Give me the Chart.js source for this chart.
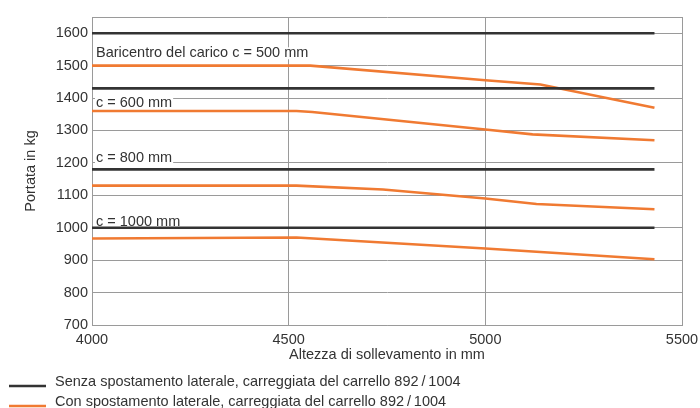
<!DOCTYPE html>
<html>
<head>
<meta charset="utf-8">
<script src="https://cdn.jsdelivr.net/npm/chart.js@4/dist/chart.umd.min.js"></script>
<style>
  html, body { margin: 0; padding: 0; background: #fff; }
  #wrap { width: 700px; height: 408px; position: relative; }
</style>
</head>
<body>
<div id="wrap"><canvas id="c" width="700" height="408"></canvas></div>
<script>
// ---- data ----
const blackX = [4000, 5430];
const black500 = [1600, 1600];
const black600 = [1430, 1430];
const black800 = [1180, 1180];
const black1000 = [1000, 1000];

const c500X = [4000, 4555, 5000, 5140, 5430];
const c500Y = [1500, 1500, 1455, 1442, 1370];
const c600X = [4000, 4520, 4560, 5000, 5120, 5430];
const c600Y = [1360, 1360, 1357, 1303, 1288, 1270];
const c800X = [4000, 4520, 4740, 5000, 5130, 5430];
const c800Y = [1130, 1130, 1118, 1090, 1073, 1057];
const c1000X = [4000, 4520, 5000, 5430];
const c1000Y = [967, 970, 936, 903];

const xTicks = [4000, 4500, 5000, 5500];
const yTicks = [700, 800, 900, 1000, 1100, 1200, 1300, 1400, 1500, 1600];
const curveLabels = ['Baricentro del carico c = 500 mm', 'c = 600 mm', 'c = 800 mm', 'c = 1000 mm'];
const curveLabelY = [1538, 1384, 1214, 1017];
const legendLabels = [
  'Senza spostamento laterale, carreggiata del carrello 892\u2009/\u20091004',
  'Con spostamento laterale, carreggiata del carrello 892\u2009/\u20091004'
];

const BLACK = '#333333';
const ORANGE = '#f07a32';
const GRID = '#9a9a9a';
const TEXT = '#333333';
const FONT = "'Liberation Sans', Arial, sans-serif";
const FS = 14.5;

function pts(xs, ys) { return xs.map((x, i) => ({ x: x, y: ys[i] })); }
function ds(xs, ys, color) {
  return { data: pts(xs, ys), borderColor: color, borderWidth: 2.6, pointRadius: 0, tension: 0, fill: false };
}

const datasets = [
  ds(blackX, black500, BLACK), ds(blackX, black600, BLACK), ds(blackX, black800, BLACK), ds(blackX, black1000, BLACK),
  ds(c500X, c500Y, ORANGE), ds(c600X, c600Y, ORANGE), ds(c800X, c800Y, ORANGE), ds(c1000X, c1000Y, ORANGE)
];

const labelPlugin = {
  id: 'curveLabels',
  beforeDatasetsDraw(chart) {
    const ctx = chart.ctx, xs = chart.scales.x, ys = chart.scales.y;
    ctx.save();
    ctx.font = FS + 'px ' + FONT;
    ctx.textBaseline = 'middle';
    curveLabels.forEach((t, i) => {
      const x = xs.getPixelForValue(4000) + 4;
      const y = ys.getPixelForValue(curveLabelY[i]);
      const w = ctx.measureText(t).width;
      ctx.fillStyle = '#fff';
      ctx.fillRect(x - 1, y - 6, w + 2, 12);
      ctx.fillStyle = TEXT;
      ctx.fillText(t, x, y);
    });
    ctx.restore();
  },
  afterDraw(chart) {
    const ctx = chart.ctx;
    const base = chart.chartArea.bottom;
    ctx.save();
    ctx.font = FS + 'px ' + FONT;
    ctx.textBaseline = 'middle';
    [BLACK, ORANGE].forEach((c, i) => {
      const y = base + 61 + i * 20;
      ctx.strokeStyle = c;
      ctx.lineWidth = 2.6;
      ctx.beginPath();
      ctx.moveTo(9, y);
      ctx.lineTo(46, y);
      ctx.stroke();
      ctx.fillStyle = TEXT;
      ctx.fillText(legendLabels[i], 55, y - 4);
    });
    ctx.restore();
  }
};

new Chart(document.getElementById('c'), {
  type: 'line',
  data: { datasets: datasets },
  plugins: [labelPlugin],
  options: {
    responsive: false,
    animation: false,
    layout: { padding: { left: 0, right: 18, top: 17, bottom: 44 } },
    plugins: { legend: { display: false }, tooltip: { enabled: false } },
    scales: {
      x: {
        type: 'linear', min: 4000, max: 5500,
        afterBuildTicks(s) { s.ticks = xTicks.map(v => ({ value: v })); },
        afterFit(s) { s.height = 39; s.paddingRight = 0; s.paddingLeft = 0; },
        ticks: { color: TEXT, font: { family: FONT, size: FS }, padding: 6, maxRotation: 0, callback: v => String(v) },
        grid: { color: GRID, lineWidth: 1, drawTicks: false },
        border: { color: GRID, width: 1 },
        title: { display: true, text: 'Altezza di sollevamento in mm', color: TEXT, font: { family: FONT, size: FS }, padding: { top: 0, bottom: 0 } }
      },
      y: {
        type: 'linear', min: 700, max: 1650,
        afterBuildTicks(s) { s.ticks = yTicks.concat([1650]).map(v => ({ value: v })); },
        afterFit(s) { s.width = 92; s.paddingTop = 0; s.paddingBottom = 0; },
        ticks: { color: TEXT, font: { family: FONT, size: FS }, padding: 4, callback: v => (v === 1650 ? '' : String(v)) },
        grid: { color: GRID, lineWidth: 1, drawTicks: false },
        border: { color: GRID, width: 1 },
        title: { display: true, text: 'Portata in kg', color: TEXT, font: { family: FONT, size: FS }, padding: { top: 22, bottom: 0 } }
      }
    }
  }
});
</script>
</body>
</html>
